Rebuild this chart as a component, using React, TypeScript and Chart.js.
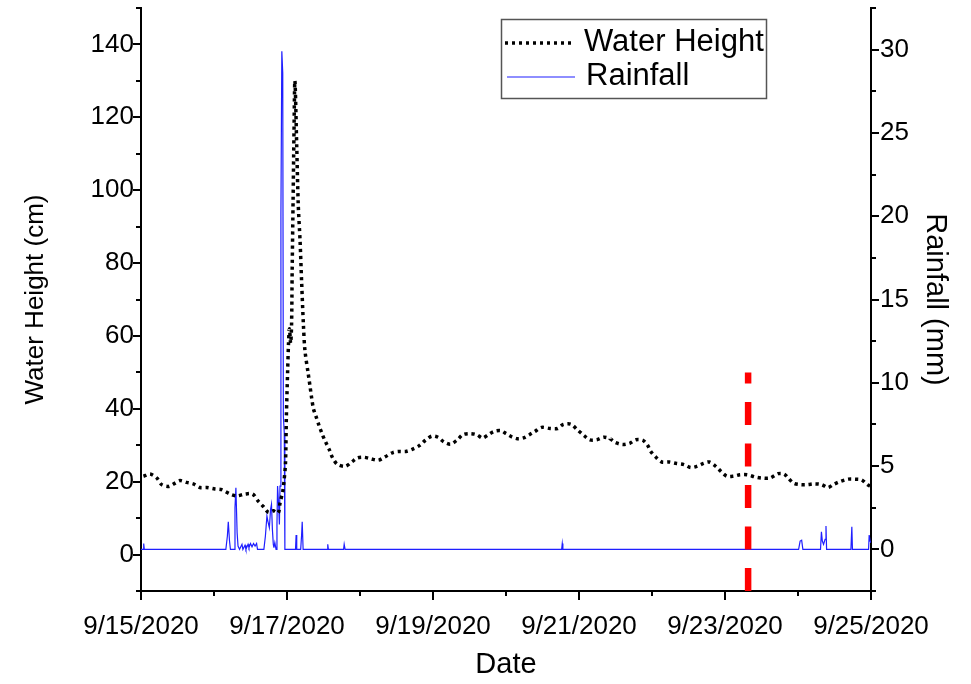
import React, { useEffect, useRef } from "react";
import { Chart, registerables } from "chart.js";

Chart.register(...registerables);

const FONT = "'Liberation Sans', Arial, Helvetica, sans-serif";

// Hours elapsed since 9/15/2020 00:00
const waterHours = [
  0.8, 3.0, 5.2, 6.8, 9.0, 11.2, 12.8, 15.0, 17.2, 19.4, 21.6, 24.3, 26.5, 29.3, 31.5, 34.2, 36.7, 38.6,
  40.2, 41.9, 43.5, 45.1, 45.7, 46.6, 47.0, 47.5, 47.8, 48.2, 48.5, 48.8, 49.2, 49.5, 49.7, 50.0, 50.3,
  50.6, 51.2, 51.7, 52.3, 52.8, 53.4, 53.9, 55.0, 55.6, 56.1, 56.7, 57.5, 58.5, 59.6, 60.7, 61.9, 62.9,
  64.5, 67.1, 69.3, 71.1, 73.3, 75.5, 78.0, 80.2, 82.8, 84.9, 87.1, 89.5, 91.5, 93.4, 95.6, 97.6, 99.6,
  101.8, 104.0, 105.8, 108.2, 110.4, 112.3, 114.2, 116.1, 118.3, 120.0, 121.9, 123.7, 125.7, 127.7,
  129.5, 131.7, 134.5, 136.9, 138.8, 141.3, 143.4, 145.6, 147.6, 149.8, 152.2, 154.2, 155.8, 158.4,
  160.8, 162.7, 165.1, 166.6, 167.6, 169.3, 171.2, 173.7, 176.1, 178.5, 180.7, 182.7, 184.9, 186.8,
  189.0, 190.7, 192.6, 194.7, 196.9, 199.3, 201.9, 204.1, 206.8, 209.5, 211.4, 212.8, 214.5, 216.7,
  219.2, 221.4, 223.8, 225.8, 227.8, 230.0, 232.5, 234.7, 236.9, 238.8, 239.7,
];

// Water height (cm)
const waterHeight = [
  21.5, 22.1, 21.0, 19.2, 18.7, 19.6, 20.3, 19.8, 19.4, 18.4, 18.4, 18.0, 17.8, 16.6, 16.1, 16.6, 16.6, 14.6,
  13.2, 11.6, 12.0, 11.4, 14.1, 17.3, 20.0, 25, 38, 50, 58, 62, 58, 63, 78, 97, 116,
  130, 112, 96, 86, 75, 63, 56, 49.5, 46, 43, 40, 38, 35.5, 33, 30.9, 28.8, 26.7,
  24.8, 24.2, 25.4, 26.5, 26.7, 26.3, 25.9, 26.8, 28.0, 28.3, 28.3, 29.0, 29.9, 31.3, 32.5, 32.2, 30.9,
  30.3, 31.5, 32.9, 33.2, 32.9, 32.0, 32.9, 33.8, 34.0, 33.2, 32.3, 31.8, 32.0, 32.9,
  33.8, 34.9, 34.6, 34.6, 35.7, 35.8, 34.3, 32.7, 31.5, 31.5, 32.2, 31.8, 30.8, 30.2,
  30.6, 31.5, 31.3, 29.9, 28.3, 26.7, 25.4, 25.4, 25.0, 24.7, 23.9, 24.2, 25.0, 25.4,
  24.2, 22.8, 21.5, 21.5, 21.9, 21.9, 21.3, 21.0, 21.0, 22.2, 22.1, 21.0, 19.6, 19.2,
  19.2, 19.4, 19.2, 18.4, 19.3, 20.1, 20.7, 20.7, 20.5, 19.2, 18.8,
];

// Rainfall timeline (hours since 9/15/2020 00:00)
const rainHours = [
  0, 0.66, 0.89, 1.08,
  27.9, 28.4, 28.7, 29.1, 29.4,
  30.6, 30.9, 31.2, 31.6, 31.9, 32.4,
  33.2, 33.5, 34.2, 34.5, 35.2, 35.5, 36.0, 36.5, 37.0, 37.5, 38.0, 38.3,
  40.4, 40.9, 41.4, 41.7, 42.2, 42.6, 42.9, 43.2, 43.5, 43.7, 44.0, 44.4,
  44.7, 44.9, 45.3, 45.5, 45.7, 46.0, 46.3, 46.6, 46.8, 47.1, 47.3,
  50.8, 51.0, 51.2, 52.5, 52.8, 53.0, 53.3,
  61.2, 61.4, 61.6, 66.6, 66.8, 67.1,
  138.3, 138.5, 138.7,
  216.2, 216.7, 217.2, 217.6,
  223.4, 223.7, 224.0, 224.4, 224.9, 225.2, 225.4,
  233.4, 233.7, 233.9,
  239.2, 239.4, 239.7, 240,
];

// Rainfall (mm)
const rainfall = [
  0, 0, 0.35, 0,
  0, 0.8, 1.65, 0.5, 0,
  0, 2.5, 3.7, 1.0, 0.2, 0,
  0.3, 0, 0.25, 0, 0.3, 0.1, 0.35, 0.15, 0.35, 0.2, 0.35, 0,
  0, 0.8, 2.0, 1.7, 1.3, 2.4, 2.7, 1.2, 0.3, 0.1, 0.4, 0,
  1.5, 3.8, 2.5, 1.5, 3.8, 20, 29.9, 28.6, 8, 7, 0,
  0, 0.86, 0, 0, 0.86, 1.66, 0,
  0, 0.3, 0, 0, 0.3, 0,
  0, 0.35, 0,
  0, 0.5, 0.55, 0,
  0, 1.06, 0.5, 0.3, 0.6, 1.4, 0,
  0, 1.36, 0,
  0, 0.86, 0.5, 0.4,
];

// Vertical marker (9/23 morning), spanning water height -10 .. 50 cm
const markerHour = 199.6;
const markerSpan = [-10, 50];

const dateTickHours = [0, 48, 96, 144, 192, 240];
const dateTickLabels = ["9/15/2020", "9/17/2020", "9/19/2020", "9/21/2020", "9/23/2020", "9/25/2020"];

const tickMarks = {
  id: "tickMarks",
  afterDraw(chart: any) {
    const { ctx, chartArea, scales } = chart;
    const x = scales.x;
    const yl = scales.y;
    const yr = scales.y1;
    ctx.save();
    ctx.strokeStyle = "#000";
    ctx.lineWidth = 2;
    ctx.beginPath();
    for (let h = 0; h <= 240; h += 24) {
      const px = Math.round(x.getPixelForValue(h));
      const len = h % 48 === 0 ? 9 : 5;
      ctx.moveTo(px, chartArea.bottom);
      ctx.lineTo(px, chartArea.bottom + len);
    }
    for (let v = -10; v <= 150; v += 10) {
      const py = Math.round(yl.getPixelForValue(v));
      const len = v % 20 === 0 ? 8 : 5;
      ctx.moveTo(chartArea.left, py);
      ctx.lineTo(chartArea.left - len, py);
    }
    for (let v = -2.5; v <= 32.5; v += 2.5) {
      const py = Math.round(yr.getPixelForValue(v));
      const len = Math.abs(v % 5) < 1e-6 ? 8 : 5;
      ctx.moveTo(chartArea.right, py);
      ctx.lineTo(chartArea.right + len, py);
    }
    ctx.stroke();
    ctx.restore();
  },
};

const legendBox = {
  id: "legendBox",
  afterDraw(chart: any) {
    const { ctx } = chart;
    ctx.save();
    ctx.strokeStyle = "#555";
    ctx.lineWidth = 1.5;
    ctx.strokeRect(501.5, 19.5, 265, 79);

    ctx.strokeStyle = "#000";
    ctx.lineWidth = 3.5;
    ctx.setLineDash([3, 4]);
    ctx.beginPath();
    ctx.moveTo(505, 43);
    ctx.lineTo(573, 43);
    ctx.stroke();

    ctx.setLineDash([]);
    ctx.strokeStyle = "#1f1fff";
    ctx.lineWidth = 1.2;
    ctx.beginPath();
    ctx.moveTo(507, 77);
    ctx.lineTo(575, 77);
    ctx.stroke();

    ctx.fillStyle = "#000";
    ctx.font = `31px ${FONT}`;
    ctx.textBaseline = "middle";
    ctx.textAlign = "left";
    ctx.fillText("Water Height", 584, 42);
    ctx.fillText("Rainfall", 586, 76);
    ctx.restore();
  },
};

export default function App() {
  const canvasRef = useRef<HTMLCanvasElement | null>(null);

  useEffect(() => {
    document.body.style.margin = "0";
    const canvas = canvasRef.current;
    if (!canvas) return;

    const waterPoints = waterHours.map((h, i) => ({ x: h, y: waterHeight[i] }));
    const rainPoints = rainHours.map((h, i) => ({ x: h, y: rainfall[i] }));
    const markerPoints = markerSpan.map((v) => ({ x: markerHour, y: v }));

    const chart = new Chart(canvas, {
      type: "line",
      data: {
        datasets: [
          {
            label: "Marker",
            data: markerPoints,
            yAxisID: "y",
            borderColor: "#ff0000",
            borderWidth: 6.5,
            borderDash: [23, 18.5],
            borderCapStyle: "butt",
            pointRadius: 0,
            tension: 0,
          },
          {
            label: "Water Height",
            data: waterPoints,
            yAxisID: "y",
            borderColor: "#000",
            borderWidth: 3.5,
            borderDash: [3.2, 3.8],
            borderCapStyle: "butt",
            pointRadius: 0,
            tension: 0.3,
          },
          {
            label: "Rainfall",
            data: rainPoints,
            yAxisID: "y1",
            borderColor: "#1f1fff",
            borderWidth: 1.2,
            pointRadius: 0,
            tension: 0,
          },
        ],
      },
      options: {
        animation: false,
        responsive: true,
        maintainAspectRatio: false,
        parsing: false as any,
        layout: { padding: { top: 8, left: 0, right: 0, bottom: 0 } },
        plugins: {
          legend: { display: false },
          tooltip: { enabled: false },
        },
        scales: {
          x: {
            type: "linear",
            min: 0,
            max: 240,
            afterFit: (s: any) => {
              s.height = 93;
              s.paddingLeft = 0;
              s.paddingRight = 0;
            },
            afterBuildTicks: (s: any) => {
              s.ticks = dateTickHours.map((v) => ({ value: v }));
            },
            grid: { display: false, drawTicks: false },
            border: { display: true, color: "#000", width: 2 },
            ticks: {
              autoSkip: false,
              maxRotation: 0,
              padding: 20,
              color: "#000",
              font: { family: FONT, size: 26 },
              callback: (v: any) => {
                const i = dateTickHours.indexOf(Number(v));
                return i >= 0 ? dateTickLabels[i] : "";
              },
            },
            title: {
              display: true,
              text: "Date",
              color: "#000",
              font: { family: FONT, size: 29 },
              padding: { top: 0, bottom: 2 },
            },
          },
          y: {
            type: "linear",
            position: "left",
            min: -10,
            max: 150,
            afterFit: (s: any) => {
              s.width = 141;
              s.paddingTop = 0;
              s.paddingBottom = 0;
            },
            afterBuildTicks: (s: any) => {
              const t = [];
              for (let v = 0; v <= 140; v += 20) t.push({ value: v });
              s.ticks = t;
            },
            grid: { display: false, drawTicks: false },
            border: { display: true, color: "#000", width: 2 },
            ticks: {
              padding: 7,
              color: "#000",
              font: { family: FONT, size: 26 },
            },
            title: {
              display: true,
              text: "Water Height (cm)",
              color: "#000",
              font: { family: FONT, size: 26 },
              padding: { top: 20, bottom: 0 },
            },
          },
          y1: {
            type: "linear",
            position: "right",
            min: -2.5,
            max: 32.5,
            afterFit: (s: any) => {
              s.width = 100;
              s.paddingTop = 0;
              s.paddingBottom = 0;
            },
            afterBuildTicks: (s: any) => {
              const t = [];
              for (let v = 0; v <= 30; v += 5) t.push({ value: v });
              s.ticks = t;
            },
            grid: { display: false, drawTicks: false },
            border: { display: true, color: "#000", width: 2 },
            ticks: {
              padding: 9,
              color: "#000",
              font: { family: FONT, size: 26 },
            },
            title: {
              display: true,
              text: "Rainfall (mm)",
              color: "#000",
              font: { family: FONT, size: 29 },
              padding: { top: 19, bottom: 0 },
            },
          },
        },
      },
      plugins: [tickMarks, legendBox],
    });

    return () => chart.destroy();
  }, []);

  return (
    <div style={{ position: "fixed", left: 0, top: 0, width: 971, height: 684, background: "#fff" }}>
      <canvas ref={canvasRef} />
    </div>
  );
}
